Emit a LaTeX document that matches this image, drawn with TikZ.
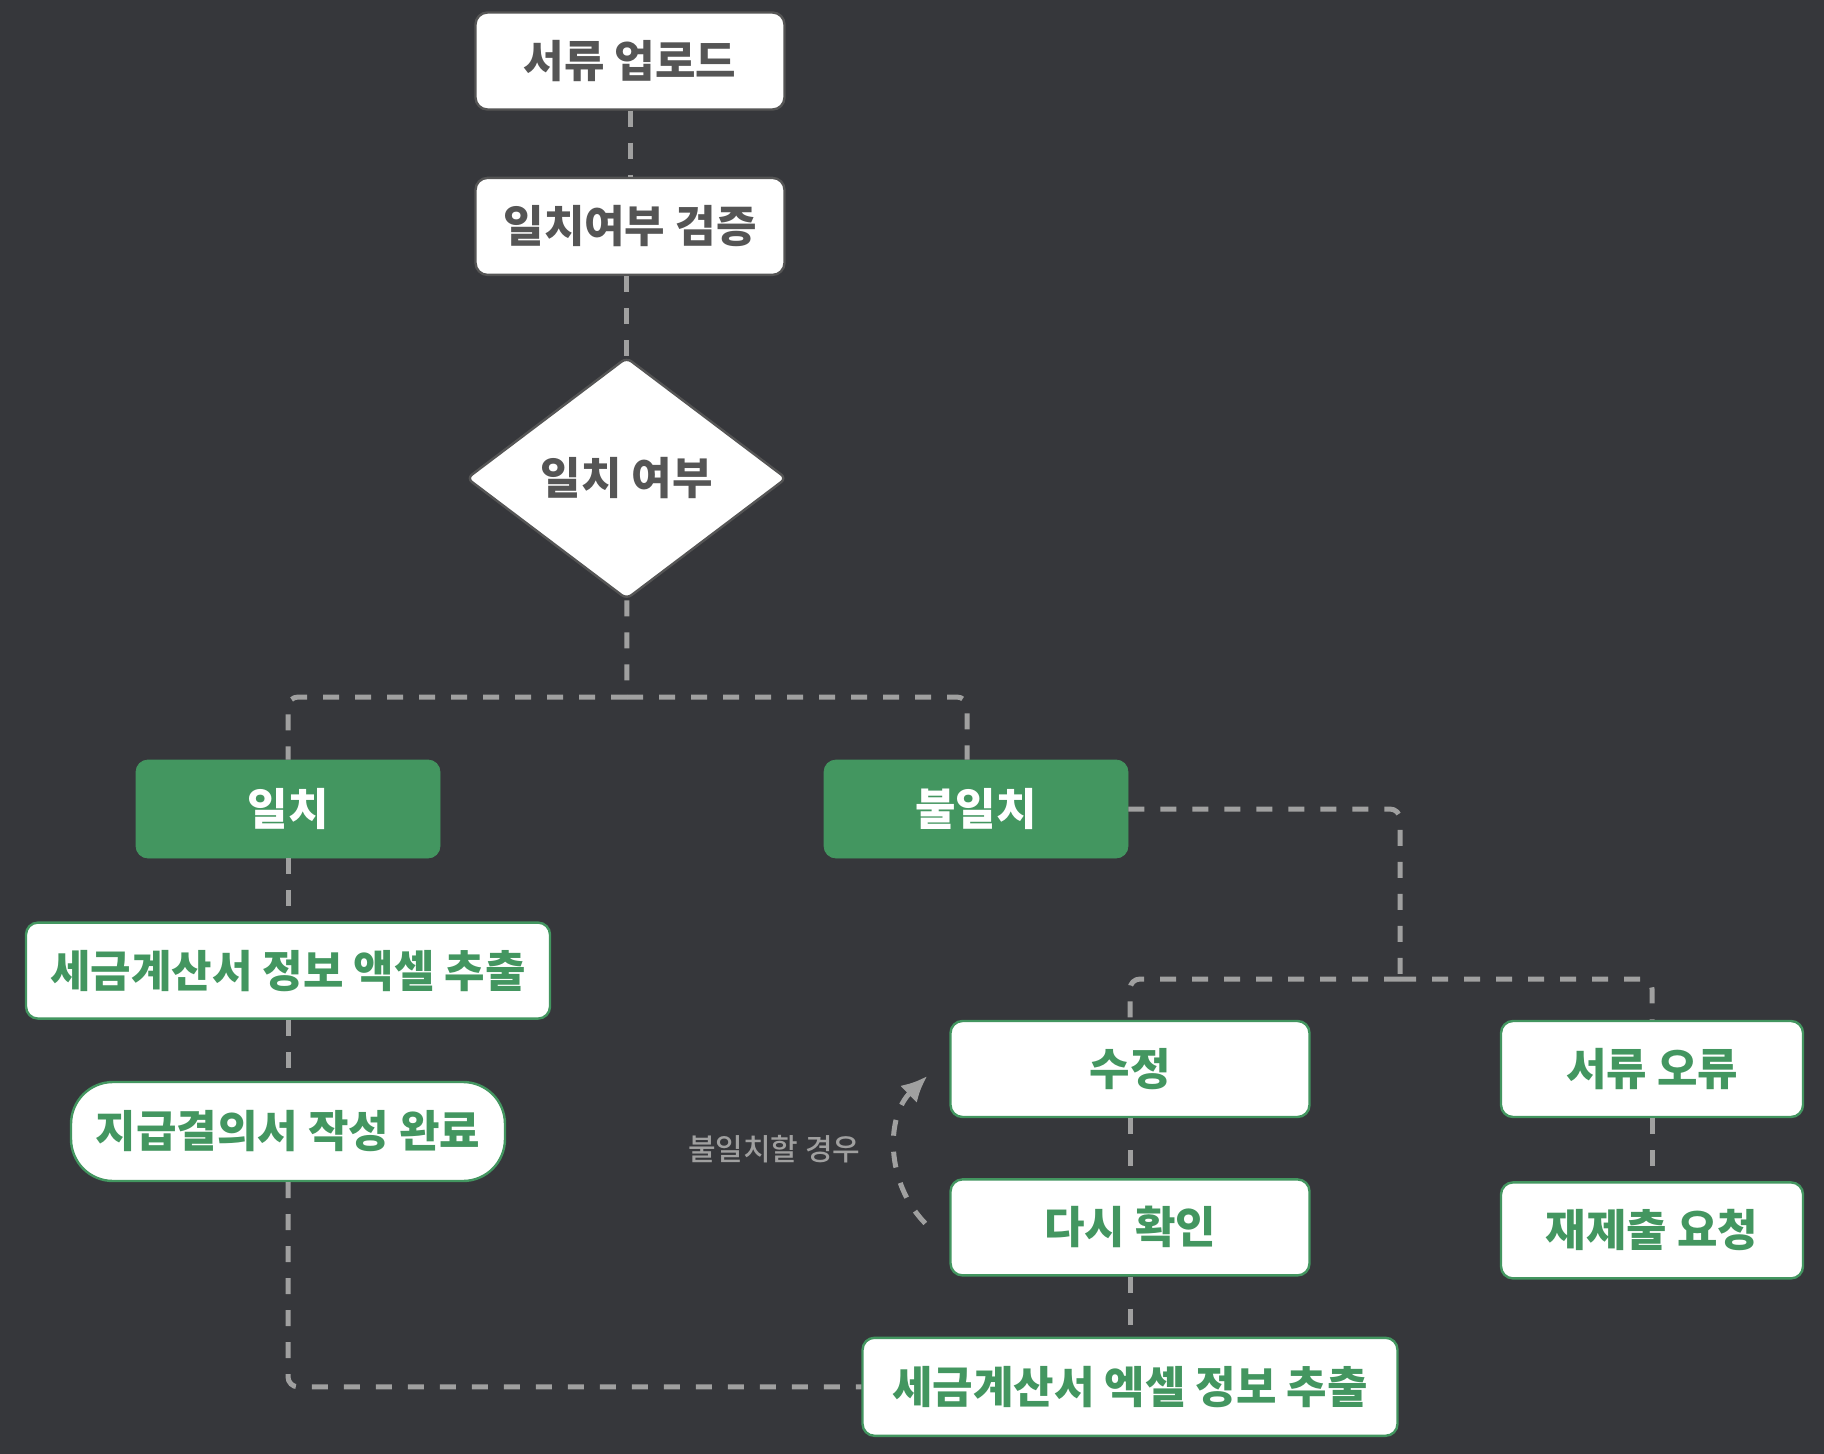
\documentclass[tikz,border=0pt]{standalone}
\usepackage{fontspec}
\setmainfont{Noto Sans CJK KR}
\newfontfamily\medfont{Noto Sans CJK KR Medium}
\usetikzlibrary{arrows.meta,positioning,shapes.geometric}
\definecolor{canvas}{RGB}{54,55,59}
\definecolor{leafgreen}{RGB}{67,150,96}
\definecolor{inkgray}{RGB}{85,85,85}
\definecolor{dashgray}{RGB}{160,160,160}

\begin{document}
\begin{tikzpicture}[
  x=1pt, y=1pt,
  label font/.style={font=\bfseries\fontsize{22}{26}\selectfont},
  plain/.style={draw=inkgray, line width=1.2pt, fill=white, rounded corners=6pt,
    text=inkgray, label font, inner sep=0pt, minimum width=154.5pt, minimum height=48.5pt},
  decision/.style={diamond, draw=inkgray, line width=1.2pt, fill=white, rounded corners=3pt,
    text=inkgray, label font, inner sep=0pt, minimum width=160pt, minimum height=121pt},
  chosen/.style={fill=leafgreen, draw=leafgreen, rounded corners=6pt, text=white,
    label font, inner sep=0pt, minimum width=152pt, minimum height=49pt},
  result/.style={draw=leafgreen, line width=1.2pt, fill=white, rounded corners=6pt,
    text=leafgreen, label font, inner sep=0pt, minimum height=48pt},
  link/.style={draw=dashgray, line width=2.5pt, dash pattern=on 8pt off 8pt, rounded corners=5pt},
  back/.style={link, rounded corners=0pt, -{Latex[length=13pt,width=12pt]}}
]
  \fill[canvas] (0,0) rectangle (912,-727);
  \useasboundingbox (0,0) rectangle (912,-727);

  % main column
  \node[plain] (upload) at (315,-30.5) {서류 업로드};
  \node[plain, below=33pt of upload] (verify) {일치여부 검증};
  \node[decision, below=40pt of verify, xshift=-1.7pt] (check) {일치 여부};

  % branches
  \node[chosen] (match) at (144,-404.5) {일치};
  \node[chosen] (nomatch) at (488,-404.5) {불일치};

  \node[result, minimum width=262pt, below=31.5pt of match] (extract1) {세금계산서 정보 액셀 추출};
  \node[result, minimum width=217pt, minimum height=49.5pt, rounded corners=21pt,
    below=30.5pt of extract1] (done) {지급결의서 작성 완료};

  \node[result, minimum width=179.5pt] (fix) at (565,-534.5) {수정};
  \node[result, minimum width=179.5pt, below=30pt of fix] (recheck) {다시 확인};
  \node[result, minimum width=151pt] (docerr) at (826,-534.5) {서류 오류};
  \node[result, minimum width=151pt, below=31.5pt of docerr] (resubmit) {재제출 요청};
  \node[result, minimum width=267.5pt, minimum height=49pt, below=30pt of recheck] (extract2) {세금계산서 엑셀 정보 추출};

  \coordinate (fork) at (313.5,-348.5);
  \coordinate (fork2) at (700,-489.5);

  \draw[link] (upload) -- (verify);
  \draw[link] (verify.south -| check) -- (check);
  \draw[link] (check) -- (fork);
  \draw[link] (fork) -| (match);
  \draw[link] (fork) -| ([xshift=-4.5pt]nomatch.north);
  \draw[link] (match) -- (extract1);
  \draw[link] (extract1) -- (done);
  \draw[link] (done) |- (extract2);
  \draw[link] (nomatch) -| (fork2);
  \draw[link] (fork2) -| (fix);
  \draw[link] (fork2) -| (docerr);
  \draw[link] (fix) -- (recheck);
  \draw[link] (recheck) -- (extract2);
  \draw[link] (docerr) -- (resubmit);

  % loop back
  \draw[back] ([xshift=-12pt,yshift=2pt]recheck.west) to[bend left=45]
    node[midway, left=13pt, text=dashgray, font=\medfont\fontsize{15}{18}\selectfont] (note) {불일치할 경우}
    ([xshift=-11pt,yshift=-3.5pt]fix.west);
\end{tikzpicture}
\end{document}
